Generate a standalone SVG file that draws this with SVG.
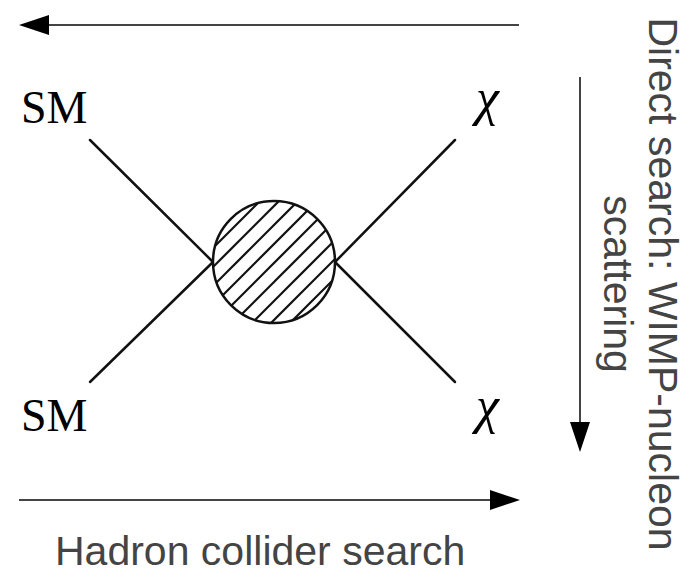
<svg xmlns="http://www.w3.org/2000/svg" width="688" height="574" viewBox="0 0 688 574">
<style>
.leg{stroke:#111;stroke-width:2.5;fill:none;stroke-linecap:round}
.arr{stroke:#444;stroke-width:2;fill:none}
.hatch{stroke:#111;stroke-width:2.2}
.sans{font-family:"Liberation Sans",Arial,sans-serif;font-size:41px;fill:#444}
.serif{font-family:"Liberation Serif","Times New Roman",serif;font-size:46px;fill:#000}
.chi{font-family:"Liberation Serif","Times New Roman",serif;font-size:52px;font-style:italic;fill:#000}
</style>
<defs>
<marker id="ah" viewBox="0 0 30 20" refX="0" refY="10" markerWidth="30" markerHeight="20" markerUnits="userSpaceOnUse" orient="auto">
<path d="M0,0 L30,10 L0,20 z" fill="#000"/>
</marker>
<clipPath id="cc"><circle cx="274" cy="262" r="61"/></clipPath>
</defs>
<g id="connectors">
<line class="leg" x1="90" y1="140" x2="213" y2="262"/>
<line class="leg" x1="90" y1="382" x2="213" y2="262"/>
<line class="leg" x1="455" y1="140" x2="335" y2="262"/>
<line class="leg" x1="455" y1="382" x2="335" y2="262"/>
<line class="arr" x1="519" y1="25" x2="49" y2="25" marker-end="url(#ah)"/>
<line class="arr" x1="19" y1="500" x2="490" y2="500" marker-end="url(#ah)"/>
<line class="arr" x1="580" y1="77" x2="580" y2="422" marker-end="url(#ah)"/>
</g>
<g id="vertex">
<circle cx="274" cy="262" r="61" fill="#fff"/>
<g clip-path="url(#cc)">
<line class="hatch" x1="61" y1="400" x2="361" y2="100"/>
<line class="hatch" x1="80" y1="400" x2="380" y2="100"/>
<line class="hatch" x1="99" y1="400" x2="399" y2="100"/>
<line class="hatch" x1="118" y1="400" x2="418" y2="100"/>
<line class="hatch" x1="137" y1="400" x2="437" y2="100"/>
<line class="hatch" x1="156" y1="400" x2="456" y2="100"/>
<line class="hatch" x1="175" y1="400" x2="475" y2="100"/>
<line class="hatch" x1="194" y1="400" x2="494" y2="100"/>
<line class="hatch" x1="213" y1="400" x2="513" y2="100"/>
</g>
<circle cx="274" cy="262" r="61" fill="none" stroke="#111" stroke-width="2.5"/>
</g>
<g id="label-sm-top"><text class="serif" x="21" y="123">SM</text></g>
<g id="label-sm-bottom"><text class="serif" x="21" y="431">SM</text></g>
<g id="label-chi-top"><text class="chi" x="476" y="115">χ</text></g>
<g id="label-chi-bottom"><text class="chi" x="476" y="423">χ</text></g>
<g id="label-hadron"><text class="sans" x="55" y="565">Hadron collider search</text></g>
<g id="label-direct">
<text class="sans" text-anchor="middle" transform="translate(649,284) rotate(90)">Direct search: WIMP-nucleon</text>
<text class="sans" text-anchor="middle" transform="translate(604,284) rotate(90)">scattering</text>
</g>
</svg>
